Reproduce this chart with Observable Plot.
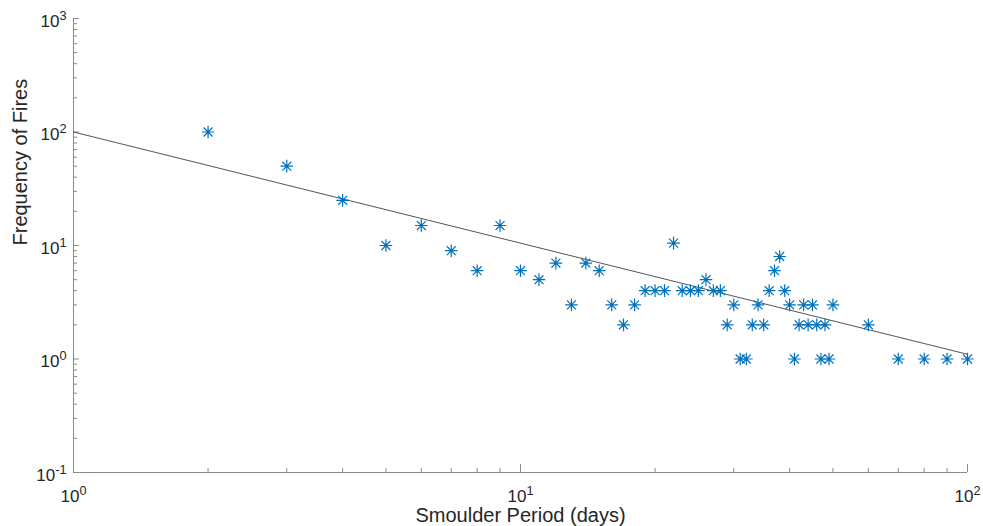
<!DOCTYPE html>
<html><head><meta charset="utf-8">
<script src="https://cdn.jsdelivr.net/npm/d3@7"></script>
<script src="https://cdn.jsdelivr.net/npm/@observablehq/plot@0.6"></script>
<style>html,body{margin:0;padding:0;background:#fff;}</style>
</head><body><div id="chart"></div>
<script>
// Data
const periods = [2,3,4,5,6,7,8,9,10,11,12,13,14,15,16,17,18,19,20,21,22,23,24,25,26,27,28,29,30,31,32,33,34,35,36,37,38,39,40,41,42,43,44,45,46,47,48,49,50,60,70,80,90,100];
const frequencies = [100,50,25,10,15,9,6,15,6,5,7,3,7,6,3,2,3,4,4,4,10.5,4,4,4,5,4,4,2,3,1,1,2,3,2,4,6,8,4,3,1,2,3,2,3,2,1,2,1,3,2,1,1,1,1];
const fitX = [1, 100];
const fitY = [100, 1.1];
const xMajor = [1, 10, 100];
const yMajor = [0.1, 1, 10, 100, 1000];
const xMinor = [2,3,4,5,6,7,8,9,20,30,40,50,60,70,80,90];
const yMinor = [0.2,0.3,0.4,0.5,0.6,0.7,0.8,0.9,2,3,4,5,6,7,8,9,20,30,40,50,60,70,80,90,200,300,400,500,600,700,800,900];
const xTitle = "Smoulder Period (days)";
const yTitle = "Frequency of Fires";

const points = periods.map((p, i) => ({period: p, freq: frequencies[i]}));
const fit = fitX.map((x, i) => ({x, y: fitY[i]}));

const asterisk = {
  draw(ctx, size) {
    const r = Math.sqrt(size / Math.PI);
    const d = r * Math.SQRT1_2;
    ctx.moveTo(-r, 0); ctx.lineTo(r, 0);
    ctx.moveTo(0, -r); ctx.lineTo(0, r);
    ctx.moveTo(-d, -d); ctx.lineTo(d, d);
    ctx.moveTo(-d, d); ctx.lineTo(d, -d);
  }
};

const W = 983, H = 526, ML = 73, MR = 16, MT = 18, MB = 54;
const PW = W - ML - MR, PH = H - MT - MB;
const axisColor = "#8a8a8a";
const fmt = d => "10^" + Math.round(Math.log10(d));

const chart = Plot.plot({
  width: W, height: H,
  marginLeft: ML, marginRight: MR, marginTop: MT, marginBottom: MB,
  style: {fontFamily: "'Liberation Sans', Arial, Helvetica, sans-serif", fontSize: "17px", color: "#262626", background: "#fff"},
  x: {type: "log", domain: [1, 100], label: null},
  y: {type: "log", domain: [0.1, 1000], label: null},
  marks: [
    // axis lines
    Plot.ruleX([1], {stroke: axisColor, strokeWidth: 1}),
    Plot.ruleY([0.1], {stroke: axisColor, strokeWidth: 1}),
    // inward ticks
    Plot.ruleX(xMajor, {stroke: axisColor, insetTop: PH - 8}),
    Plot.ruleX(xMinor, {stroke: axisColor, insetTop: PH - 4}),
    Plot.ruleY(yMajor, {stroke: axisColor, insetRight: PW - 6}),
    Plot.ruleY(yMinor, {stroke: axisColor, insetRight: PW - 4}),
    Plot.axisX(xMajor, {tickSize: 0, tickPadding: 17, tickFormat: fmt, label: null, fontSize: 17}),
    Plot.axisY(yMajor, {anchor: "left", tickSize: 0, tickPadding: 7, dy: 3, tickFormat: fmt, label: null, fontSize: 17}),
    // fitted line
    Plot.line(fit, {x: "x", y: "y", stroke: "#555555", strokeWidth: 1}),
    // observations
    Plot.dot(points, {x: "period", y: "freq", symbol: asterisk, r: 6.3, stroke: "#0072BD", fill: "none", strokeWidth: 1.2}),
    // titles
    Plot.text([xTitle], {text: d => d, frameAnchor: "bottom", dy: 43, fontSize: 20, lineAnchor: "middle", fill: "#262626"}),
    Plot.text([yTitle], {text: d => d, frameAnchor: "left", dx: -52.7, rotate: -90, fontSize: 20, lineAnchor: "middle", fill: "#262626"})
  ]
});

// Superscript exponents in tick labels
const ns = "http://www.w3.org/2000/svg";
chart.querySelectorAll("text").forEach(t => {
  const m = /^10\^(-?\d+)$/.exec(t.textContent);
  if (!m) return;
  t.textContent = "";
  const a = document.createElementNS(ns, "tspan");
  a.textContent = "10";
  const b = document.createElementNS(ns, "tspan");
  b.textContent = m[1];
  b.setAttribute("dy", "-0.55em");
  b.setAttribute("font-size", "0.75em");
  t.append(a, b);
});

document.getElementById("chart").append(chart);
</script>
</body></html>
